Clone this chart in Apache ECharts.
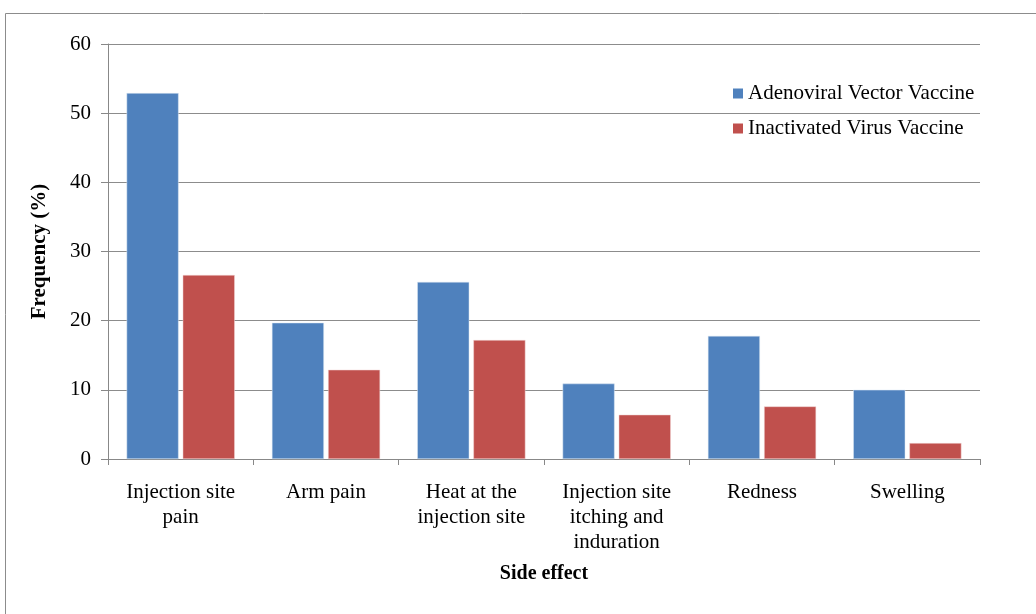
<!DOCTYPE html>
<html lang="en">
<head>
    <meta charset="UTF-8">
    <title>Side effects</title>
    <script type="text/javascript" src="https://cdn.jsdelivr.net/npm/echarts@6/dist/echarts.min.js"></script>
</head>
<style>
    html, body {
        margin: 0;
        padding: 0;
        background-color: #fff;
    }
    #chart {
        width: 1036px;
        height: 614px;
    }
</style>
<body>
<div id="chart"></div>
</body>
<script>
    var categories = ['Injection site\npain', 'Arm pain', 'Heat at the\ninjection site',
        'Injection site\nitching and\ninduration', 'Redness', 'Swelling'];
    var adenoviral = [52.9, 19.7, 25.6, 10.9, 17.8, 10.0];
    var inactivated = [26.6, 12.9, 17.2, 6.4, 7.6, 2.3];
    var seriesNames = ['Adenoviral Vector Vaccine', 'Inactivated Virus Vaccine'];

    var font = 'Liberation Serif';
    var myChart = echarts.init(document.getElementById('chart'));

    var option = {
        backgroundColor: '#fff',
        animation: false,
        textStyle: { fontFamily: font, color: '#000' },
        graphic: [{
            type: 'rect',
            shape: { x: 5.5, y: 13.5, width: 1100, height: 700 },
            style: { fill: 'none', stroke: '#8c8c8c', lineWidth: 1 },
            silent: true
        }],
        legend: {
            orient: 'vertical',
            left: 728,
            top: 78,
            itemWidth: 10,
            itemHeight: 10,
            itemGap: 14,
            icon: 'rect',
            itemStyle: { borderWidth: 0 },
            textStyle: { fontFamily: font, fontSize: 21, color: '#000' },
            data: seriesNames
        },
        grid: {
            left: 108,
            right: 56,
            top: 44,
            bottom: 155
        },
        xAxis: {
            type: 'category',
            data: categories,
            name: 'Side effect',
            nameLocation: 'middle',
            nameGap: 105,
            nameTextStyle: { fontFamily: font, fontSize: 20, fontWeight: 'bold', color: '#000' },
            axisLine: { lineStyle: { color: '#888' } },
            axisTick: { show: true, length: 6, lineStyle: { color: '#888' } },
            axisLabel: {
                fontFamily: font, fontSize: 21, color: '#000',
                margin: 21, lineHeight: 25, interval: 0
            }
        },
        yAxis: {
            type: 'value',
            min: 0,
            max: 60,
            interval: 10,
            name: 'Frequency (%)',
            nameLocation: 'middle',
            nameGap: 58,
            nameRotate: 90,
            nameTextStyle: { fontFamily: font, fontSize: 21, fontWeight: 'bold', color: '#000' },
            axisLine: { show: true, lineStyle: { color: '#888' } },
            axisTick: { show: true, length: 7, lineStyle: { color: '#888' } },
            axisLabel: { fontFamily: font, fontSize: 21, color: '#000', margin: 17 },
            splitLine: { lineStyle: { color: '#8c8c8c', width: 1 } }
        },
        series: [
            {
                name: seriesNames[0],
                type: 'bar',
                data: adenoviral,
                barWidth: 52,
                barGap: '8%',
                itemStyle: { color: '#4F81BD', borderColor: '#dbe6f3', borderWidth: 0.5 }
            },
            {
                name: seriesNames[1],
                type: 'bar',
                data: inactivated,
                barWidth: 52,
                barGap: '8%',
                itemStyle: { color: '#C0504D', borderColor: '#f0d5d4', borderWidth: 0.5 }
            }
        ]
    };
    myChart.setOption(option);
</script>
</html>
